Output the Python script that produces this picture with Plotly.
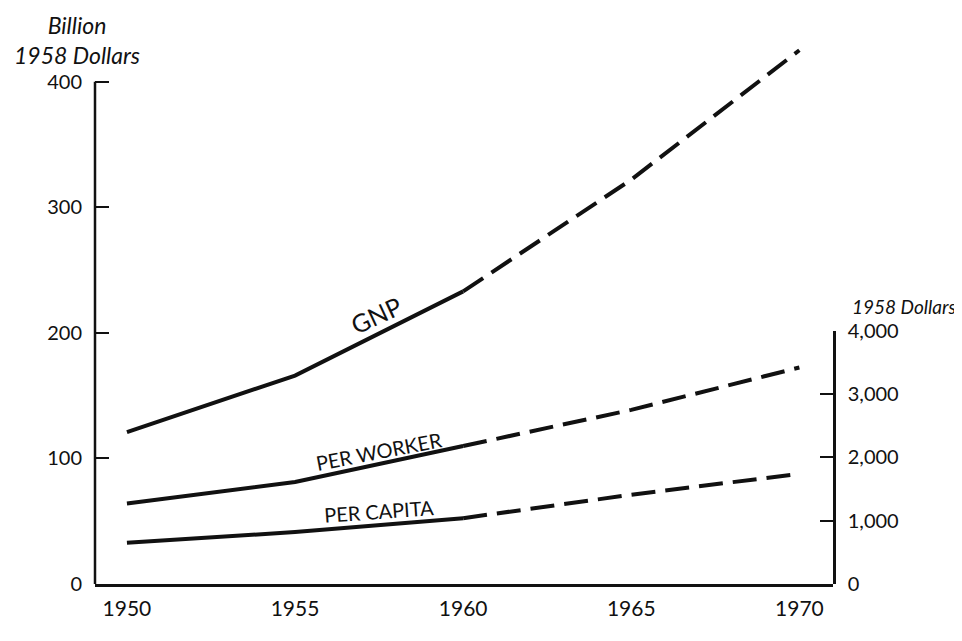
import plotly.graph_objects as go

# Years on the x axis
years = [1950, 1955, 1960, 1965, 1970]
year_labels = ["1950", "1955", "1960", "1965", "1970"]

# GNP, billion 1958 dollars (left axis); solid to 1960, projected after
gnp = [121, 166, 233, 322, 425]

# per worker / per capita, 1958 dollars (right axis)
per_worker = [1270, 1610, 2180, 2750, 3420]
per_capita = [650, 820, 1040, 1410, 1740]

left_ticks = [0, 100, 200, 300, 400]
right_ticks = [0, 1000, 2000, 3000, 4000]
right_ticktext = ["0", "1,000", "2,000", "3,000", "4,000"]

FONT = "Lato"
INK = "#111111"
solid_n = 3  # first three points actual, the rest projected

fig = go.Figure()


def add_series(vals, yaxis):
    fig.add_trace(go.Scatter(
        x=years[:solid_n], y=vals[:solid_n], yaxis=yaxis, mode="lines",
        line=dict(color=INK, width=4), showlegend=False, hoverinfo="skip"))
    fig.add_trace(go.Scatter(
        x=years[solid_n - 1:], y=vals[solid_n - 1:], yaxis=yaxis, mode="lines",
        line=dict(color=INK, width=4, dash="24px,10px"),
        showlegend=False, hoverinfo="skip"))


add_series(gnp, "y")
add_series(per_worker, "y2")
add_series(per_capita, "y2")

# page body has an 8px margin, so the figure is 8px smaller than the window
fig.update_layout(
    width=954, height=633,
    margin=dict(l=87, r=129, t=36, b=57),
    plot_bgcolor="rgba(0,0,0,0)", paper_bgcolor="white",
    font=dict(family=FONT, color=INK, size=17),
    xaxis=dict(
        range=[1949.05, 1971.0], tickvals=years, ticktext=year_labels,
        showgrid=False, zeroline=False, showline=True, linecolor=INK, linewidth=2.5,
        ticks="", tickfont=dict(size=21), ticklabelstandoff=4,
    ),
    yaxis=dict(
        range=[0, 430], tickvals=left_ticks, showgrid=False, zeroline=False,
        showline=False, ticks="inside", ticklen=14, tickwidth=2, tickcolor=INK,
        tickfont=dict(size=20), ticklabelstandoff=12,
    ),
    yaxis2=dict(
        domain=[0, 0.469], range=[0, 4000], anchor="x", side="right",
        tickvals=right_ticks, ticktext=right_ticktext, showgrid=False,
        zeroline=False, showline=True, linecolor=INK, linewidth=2.5,
        ticks="inside", ticklen=13, tickwidth=2, tickcolor=INK,
        tickfont=dict(size=20), ticklabelstandoff=8,
    ),
)

# left axis line only up to 400
fig.add_shape(type="line", xref="paper", yref="y", x0=0, x1=0, y0=0, y1=400,
              line=dict(color=INK, width=2.5))

# axis titles
fig.add_annotation(text="<i>Billion<br>1958 Dollars</i>", xref="paper", yref="paper",
                   x=-0.024, y=1.064, xanchor="center", yanchor="top", showarrow=False,
                   font=dict(size=23), align="center")
fig.add_annotation(text="<i>1958 Dollars</i>", xref="paper", yref="y2",
                   x=1.096, y=4000, yshift=24, xanchor="center", showarrow=False,
                   font=dict(size=19))

# series labels
fig.add_annotation(text="GNP", x=1957.4, y=214, textangle=-25, showarrow=False,
                   font=dict(size=25))
fig.add_annotation(text="PER WORKER", x=1957.5, y=2100, yref="y2", textangle=-11,
                   showarrow=False, font=dict(size=20))
fig.add_annotation(text="PER CAPITA", x=1957.5, y=1150, yref="y2", textangle=-4,
                   showarrow=False, font=dict(size=20))

fig.write_html("out.html")
